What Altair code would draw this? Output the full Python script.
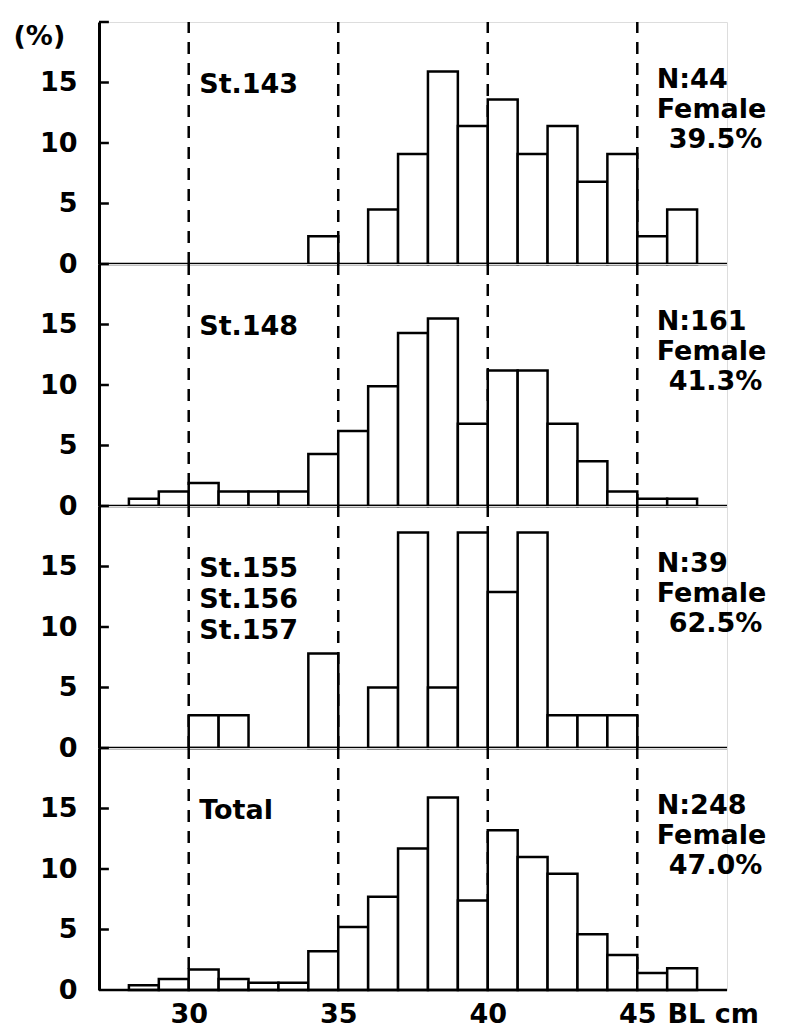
import altair as alt
import pandas as pd

# ---------------- data ----------------
x_domain = [27, 48]
x_labels = [30, 35, 40, 45]
guide_x = [30, 35, 40, 45]
y_labels = [0, 5, 10, 15]
inner_ticks = [5, 10, 15, 20]

panel_names = ["St.143", "St.148", "St.155\nSt.156\nSt.157", "Total"]
n_labels = ["N:44", "N:161", "N:39", "N:248"]
female_pct = ["39.5%", "41.3%", "62.5%", "47.0%"]

bins_143 = [34, 36, 37, 38, 39, 40, 41, 42, 43, 44, 45, 46]
pct_143 = [2.3, 4.5, 9.1, 15.9, 11.4, 13.6, 9.1, 11.4, 6.8, 9.1, 2.3, 4.5]

bins_148 = [28, 29, 30, 31, 32, 33, 34, 35, 36, 37, 38, 39, 40, 41, 42, 43, 44, 45, 46]
pct_148 = [0.6, 1.2, 1.9, 1.2, 1.2, 1.2, 4.3, 6.2, 9.9, 14.3, 15.5, 6.8, 11.2, 11.2, 6.8, 3.7, 1.2, 0.6, 0.6]

bins_155 = [30, 31, 34, 36, 37, 38, 39, 40, 41, 42, 43, 44]
pct_155 = [2.7, 2.7, 7.8, 5.0, 17.8, 5.0, 17.8, 12.9, 17.8, 2.7, 2.7, 2.7]

bins_total = [28, 29, 30, 31, 32, 33, 34, 35, 36, 37, 38, 39, 40, 41, 42, 43, 44, 45, 46]
pct_total = [0.4, 0.9, 1.7, 0.9, 0.6, 0.6, 3.2, 5.2, 7.7, 11.7, 15.9, 7.4, 13.2, 11.0, 9.6, 4.6, 2.9, 1.4, 1.8]

panel_bins = [bins_143, bins_148, bins_155, bins_total]
panel_pcts = [pct_143, pct_148, pct_155, pct_total]

# ---------------- style ----------------
FONT = "DejaVu Sans"
FS = 27
FW = "bold"
INK = "black"
W, H = 628, 242

xs = alt.Scale(domain=x_domain, nice=False, zero=False)
ys = alt.Scale(domain=[0, 20], nice=False, zero=False)


def make_panel(i):
    bottom = i == 3
    if bottom:
        x_axis = alt.Axis(values=x_labels, domain=False, ticks=False, tickSize=0, grid=False,
                          labelFont=FONT, labelFontSize=FS, labelFontWeight=FW,
                          labelColor=INK, labelPadding=11,
                          labelFlush=False, labelAngle=0,
                          title="BL cm", titleX=568, titleY=11, titleAlign="left",
                          titleBaseline="top", titleFont=FONT, titleFontSize=FS,
                          titleFontWeight=FW, titleColor=INK)
    else:
        x_axis = None
    y_axis = alt.Axis(values=y_labels, ticks=False, grid=False, domain=True,
                      domainColor=INK, domainWidth=3,
                      labelFont=FONT, labelFontSize=FS, labelFontWeight=FW,
                      labelColor=INK, labelPadding=22, labelFlush=False,
                      title="(%)" if i == 0 else "", titleAngle=0, titleX=-86, titleY=1,
                      titleAlign="left", titleBaseline="top", titleFont=FONT,
                      titleFontSize=FS, titleFontWeight=FW, titleColor=INK)

    def XF(f):
        return alt.X(f, scale=xs, axis=x_axis)

    def XD(v):
        return alt.XDatum(v, scale=xs, axis=x_axis)

    def YF(f):
        return alt.Y(f, scale=ys, axis=y_axis)

    def YD(v):
        return alt.YDatum(v, scale=ys, axis=y_axis)

    one = pd.DataFrame({"k": [0]})

    guides = alt.Chart(pd.DataFrame({"x": guide_x})).mark_rule(
        color=INK, strokeWidth=2.5, strokeDash=[12, 9]
    ).encode(x=XF("x:Q"), y=YD(0), y2=alt.datum(20))

    bars_df = pd.DataFrame({"start": panel_bins[i], "pct": panel_pcts[i]})
    bars = alt.Chart(bars_df).transform_calculate(
        end="datum.start + 1"
    ).mark_rect(fill="white", stroke=INK, strokeWidth=2.5).encode(
        x=XF("start:Q"), x2="end:Q", y=YF("pct:Q"), y2=alt.datum(0)
    )

    baseline = alt.Chart(one).mark_rule(color=INK, strokeWidth=2.5).encode(
        x=XD(x_domain[0]), x2=alt.datum(x_domain[1]), y=YD(0)
    )

    ticks = alt.Chart(pd.DataFrame({"t": inner_ticks})).mark_rule(
        color=INK, strokeWidth=2.5
    ).encode(x=XD(27), x2=alt.datum(27.33), y=YF("t:Q"))

    name_txt = alt.Chart(pd.DataFrame({"t": [panel_names[i]]})).mark_text(
        align="left", baseline="top", lineBreak="\n", lineHeight=31,
        font=FONT, fontSize=FS, fontWeight=FW, color=INK
    ).encode(x=XD(30.35), y=YD(15.9), text="t:N")

    n_txt = alt.Chart(pd.DataFrame({"t": [n_labels[i] + "\nFemale"]})).mark_text(
        align="left", baseline="top", lineBreak="\n", lineHeight=29.5,
        font=FONT, fontSize=FS, fontWeight=FW, color=INK
    ).encode(x=XD(45.65), y=YD(16.25), text="t:N")

    p_txt = alt.Chart(pd.DataFrame({"t": [female_pct[i]]})).mark_text(
        align="left", baseline="top", font=FONT, fontSize=FS, fontWeight=FW, color=INK
    ).encode(x=XD(46.05), y=YD(11.35), text="t:N")

    return alt.layer(guides, bars, baseline, ticks, name_txt, n_txt, p_txt).properties(
        width=W, height=H
    )


chart = alt.vconcat(*[make_panel(i) for i in range(4)], spacing=0, bounds="flush").properties(
    padding={"left": 4, "top": 12, "right": 0, "bottom": 0}
).configure_view(stroke=None).configure(background="white")

chart.save("out.html", embed_options={"renderer": "svg", "actions": False})
